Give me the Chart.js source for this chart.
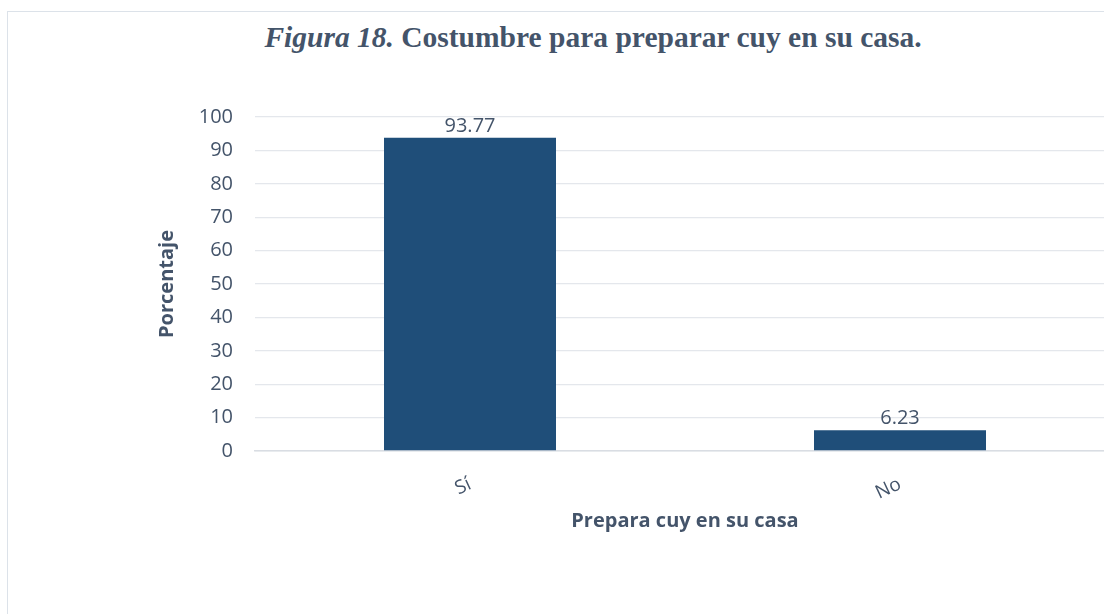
<!DOCTYPE html>
<html>
<head>
<meta charset="utf-8">
<script src="https://cdn.jsdelivr.net/npm/chart.js@4.4.1/dist/chart.umd.min.js"></script>
<style>
  html, body { margin: 0; padding: 0; background: #fff; overflow: hidden; }
  body { width: 1104px; height: 614px; position: relative; }
  #frame {
    position: absolute; left: 7px; top: 11px; width: 1200px; height: 700px;
    border: 1.5px solid #dce2e9; box-sizing: border-box;
  }
  #title {
    position: absolute; left: 0; top: 21px; width: 1186px; text-align: center;
    font-family: "Liberation Serif", "Times New Roman", serif; font-weight: bold;
    font-size: 29.5px; color: #44546a; white-space: nowrap;
  }
  #wrap { position: absolute; left: 0; top: 0; width: 1130px; height: 614px; }
</style>
</head>
<body>
<div id="frame"></div>
<div id="title"><i>Figura 18.</i> Costumbre para preparar cuy en su casa.</div>
<div id="wrap"><canvas id="chart"></canvas></div>
<script>
const categories = ["Sí", "No"];
const values = [93.77, 6.23];
const yMin = 0;
const yMax = 100;
const yStep = 10;

const textColor = "#44546a";

// value labels above each bar
const barLabels = {
  id: "barLabels",
  afterDatasetsDraw(chart) {
    const ctx = chart.ctx;
    const meta = chart.getDatasetMeta(0);
    ctx.save();
    ctx.font = "20px 'Open Sans'";
    ctx.fillStyle = textColor;
    ctx.textAlign = "center";
    ctx.textBaseline = "bottom";
    meta.data.forEach((bar, i) => {
      ctx.fillText(values[i].toFixed(2), bar.x, bar.y - 2);
    });
    ctx.restore();
  },
};

new Chart(document.getElementById("chart"), {
  type: "bar",
  data: {
    labels: categories,
    datasets: [
      {
        data: values,
        backgroundColor: "#1f4e79",
        categoryPercentage: 1,
        barPercentage: 0.4,
      },
    ],
  },
  options: {
    responsive: true,
    maintainAspectRatio: false,
    animation: false,
    layout: { padding: { left: 155, right: 15, top: 117, bottom: 81 } },
    plugins: { legend: { display: false }, tooltip: { enabled: false } },
    scales: {
      x: {
        grid: { display: false },
        border: { display: true, color: "#d9dde3", width: 1.5 },
        ticks: {
          color: textColor,
          font: { family: "Open Sans", size: 19 },
          minRotation: 25,
          maxRotation: 25,
          padding: 14,
        },
        title: {
          display: true,
          text: "Prepara cuy en su casa",
          color: textColor,
          font: { family: "Open Sans", size: 20, weight: "bold" },
          padding: 0,
        },
        afterFit(scale) { scale.height = 82; },
      },
      y: {
        min: yMin,
        max: yMax,
        grid: { color: "#e4e7ec", lineWidth: 1.3, drawTicks: false },
        border: { display: false },
        ticks: {
          stepSize: yStep,
          color: textColor,
          font: { family: "Open Sans", size: 20 },
          padding: 22,
        },
        title: {
          display: true,
          text: "Porcentaje",
          color: textColor,
          font: { family: "Open Sans", size: 20, weight: "bold" },
          padding: 0,
        },
        afterFit(scale) { scale.width = 100; },
      },
    },
  },
  plugins: [barLabels],
});
</script>
</body>
</html>
